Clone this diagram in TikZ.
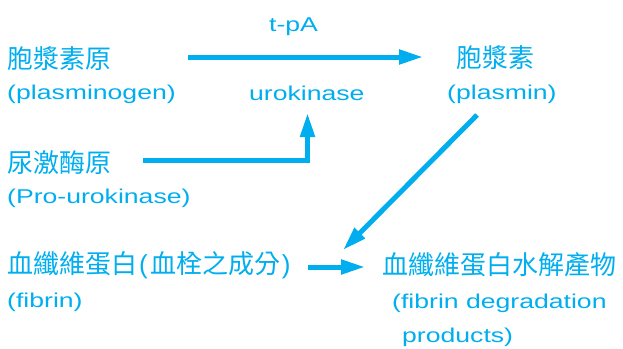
\documentclass[tikz,border=0pt]{standalone}
\usepackage{fontspec}
\setmainfont{Liberation Sans}[FakeStretch=1.33]
\newfontfamily\plainsans{Liberation Sans}
\newfontfamily\cjkfont{Noto Sans CJK TC}
\usetikzlibrary{arrows.meta}
\definecolor{fcyan}{RGB}{0,174,239}
\newcommand{\cjkparen}[1]{{\plainsans\fontsize{26}{26}\selectfont #1}}
\begin{document}
\begin{tikzpicture}[x=1pt,y=-1pt,
  zh/.style={inner sep=0pt, anchor=west, font=\cjkfont\fontsize{26}{26}\selectfont, text=fcyan},
  en/.style={inner sep=0pt, anchor=west, font=\fontsize{20}{20}\selectfont, text=fcyan},
  flow/.style={draw=fcyan, line width=5pt, line join=miter, -{Triangle[length=24pt,width=14pt]}}]
\useasboundingbox (0,0) rectangle (623,348);
% nodes
\node[zh] (plg) at (7,58.5) {胞漿素原};
\node[en] (plgE) at (7,94) {(plasminogen)};
\node[en,anchor=base west] (tpa) at (269,31.5) {t-pA};
\node[en,anchor=base west] (uk) at (249,100) {urokinase};
\node[zh] (pl) at (456,57.5) {胞漿素};
\node[en] (plE) at (447,94) {(plasmin)};
\node[zh] (puk) at (7,162.5) {尿激酶原};
\node[en] (pukE) at (7,198.5) {(Pro-urokinase)};
\node[zh] (fib) at (7,265.5) {血纖維蛋白\hspace{2pt}\cjkparen{(}\hspace{3pt}血栓之成分\hspace{1pt}\cjkparen{)}};
\node[en] (fibE) at (7,302.5) {(fibrin)};
\node[zh] (fdp) at (382,265) {血纖維蛋白水解產物};
\node[en] (fdpE) at (392,303) {(fibrin degradation};
\node[en] (fdpE2) at (402,337) {products)};
% connector ends
\coordinate (a1s) at (188,57);
\coordinate (a1e) at (423,57);
\coordinate (a2s) at (143,160);
\coordinate (a2e) at (307.5,113);
\coordinate (a3s) at (477,115);
\coordinate (a3e) at (343,250);
\coordinate (a4s) at (308,267);
\coordinate (a4e) at (365,267);
% connectors
\draw[flow] (a1s) -- (a1e);
\draw[flow] (a2s) -| (a2e);
\draw[flow] (a3s) -- (a3e);
\draw[flow] (a4s) -- (a4e);
\end{tikzpicture}
\end{document}
